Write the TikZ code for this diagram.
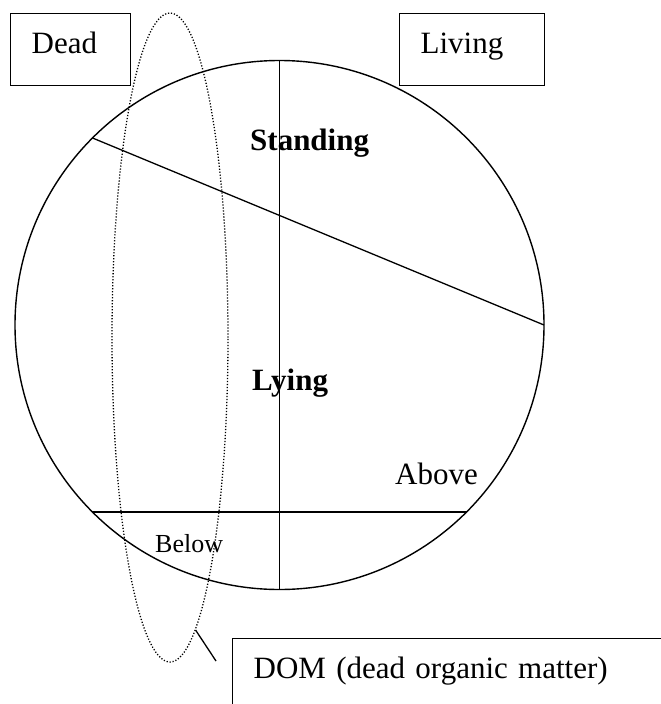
\documentclass[tikz,border=0pt]{standalone}
\usepackage{fontspec}
\setmainfont{Liberation Serif}
\usetikzlibrary{shapes.geometric}

\begin{document}
\begin{tikzpicture}[x=1pt, y=-1pt,
  font=\fontsize{31}{37}\selectfont,
  txt/.style={anchor=base west, inner sep=0pt},
  tag/.style={draw, line width=1.3pt, anchor=north west, align=left,
    inner xsep=21pt, inner ysep=16pt, text height=24pt, text depth=16pt},
  part/.style={line width=1.3pt}]
  \useasboundingbox (0,0) rectangle (661,704);
  \clip (0,0) rectangle (661,704);
  % the pool of wood
  \node[circle, draw, line width=1.4pt, minimum size=529pt,
    inner sep=0pt, outer sep=0pt] (pool) at (279.5,325) {};
  \draw[part] (pool.north) -- (pool.south);
  \draw[part] (pool.135) -- (pool.east);
  \draw[part] (pool.-135) -- (pool.-45);
  % labels
  \node[tag, text width=78pt] (dead) at (10,13) {Dead};
  \node[tag, text width=103pt] (living) at (399,13) {Living};
  \node[txt, font=\fontsize{31}{37}\selectfont\bfseries] (standing) at (250,150) {Standing};
  \node[txt, font=\fontsize{31}{37}\selectfont\bfseries] (lying) at (252,390) {Lying};
  \node[txt] (above) at (395,484) {Above};
  \node[txt, font=\fontsize{26}{31}\selectfont] (below) at (155,552) {Below};
  % dead organic matter
  \node[ellipse, draw, line width=1.3pt, dash pattern=on 1.2pt off 1.8pt,
    minimum width=116pt, minimum height=649pt, inner sep=0pt] (zone) at (170,337.5) {};
  \node[tag, text width=440pt] (dom) at (232,638) {DOM (dead organic matter)};
  \coordinate (hook) at (216,661);
  \draw[part] (zone.-85.8) -- (hook);
\end{tikzpicture}
\end{document}
